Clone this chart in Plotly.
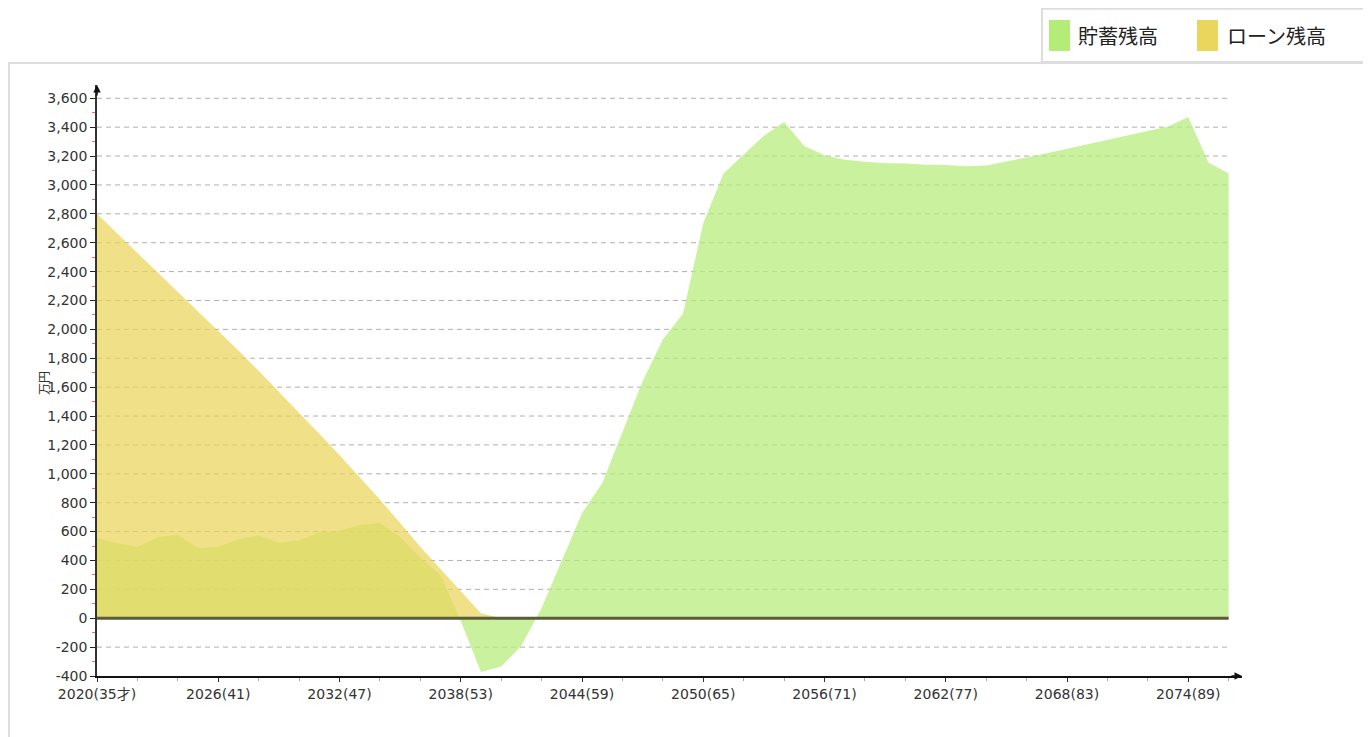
import plotly.graph_objects as go

# 年と年齢
years = list(range(2020, 2077))
tick_years = [2020, 2026, 2032, 2038, 2044, 2050, 2056, 2062, 2068, 2074]
tick_labels = ["2020(35才)", "2026(41)", "2032(47)", "2038(53)", "2044(59)",
               "2050(65)", "2056(71)", "2062(77)", "2068(83)", "2074(89)"]

# 貯蓄残高 (万円)
savings = [555, 520, 495, 560, 580, 485, 495, 545, 575, 522,
           540, 595, 605, 645, 660, 565, 420, 300, -20, -372,
           -335, -190, 70, 400, 727, 935, 1290, 1640, 1930, 2110,
           2735, 3080, 3210, 3340, 3435, 3270, 3205, 3175, 3160, 3150,
           3148, 3140, 3138, 3130, 3135, 3160, 3190, 3220, 3250, 3280,
           3310, 3340, 3370, 3405, 3470, 3155, 3080]

# ローン残高 (万円)
loan = [2800, 2665, 2530, 2395, 2262, 2128, 1993, 1853, 1713, 1570,
        1425, 1278, 1130, 978, 822, 660, 495, 340, 185, 35] + [0] * 37

y_ticks = list(range(-400, 3601, 200))
y_labels = [f"{v:,}" for v in y_ticks]

GREEN = "rgb(180,236,120)"
YELLOW = "rgb(234,214,92)"
FONT = "DejaVu Sans, Noto Sans CJK JP, sans-serif"

fig = go.Figure()
fig.add_trace(go.Scatter(x=years, y=savings, name="貯蓄残高", mode="lines",
                         line=dict(width=0, color=GREEN), fill="tozeroy",
                         fillcolor="rgba(180,236,120,0.72)"))
fig.add_trace(go.Scatter(x=years, y=loan, name="ローン残高", mode="lines",
                         line=dict(width=0, color=YELLOW), fill="tozeroy",
                         fillcolor="rgba(234,214,92,0.72)"))

shapes = []
# 点線のグリッド
for v in y_ticks:
    if v in (-400, 0):
        continue
    shapes.append(dict(type="line", xref="x", yref="y", x0=years[0], x1=years[-1], y0=v, y1=v,
                       line=dict(color="#b0b0b0", width=1, dash="5px,4px"), layer="below"))
# ゼロライン
shapes.append(dict(type="line", xref="x", yref="y", x0=years[0], x1=years[-1], y0=0, y1=0,
                   line=dict(color="#5a5c3a", width=3), layer="above"))
# 外枠と凡例枠
shapes.append(dict(type="rect", xref="paper", yref="paper", x0=-0.0769, x1=1.1074, y0=-0.2, y1=1.0372,
                   line=dict(color="#dddddd", width=2)))
shapes.append(dict(type="rect", xref="paper", yref="paper", x0=0.8253, x1=1.1074, y0=1.0389, y1=1.1290,
                   line=dict(color="#dddddd", width=2), fillcolor="white"))
# 凡例の色見本
shapes.append(dict(type="rect", xref="paper", yref="paper", x0=0.8314, x1=0.8498, y0=1.0575, y1=1.110,
                   line=dict(width=0), fillcolor=GREEN))
shapes.append(dict(type="rect", xref="paper", yref="paper", x0=0.9607, x1=0.9790, y0=1.0575, y1=1.110,
                   line=dict(width=0), fillcolor=YELLOW))

annotations = [
    dict(text="貯蓄残高", xref="paper", yref="paper", x=0.855, y=1.0846, xanchor="left", yanchor="middle",
         showarrow=False, font=dict(family="Noto Sans CJK JP", size=20, color="#222")),
    dict(text="ローン残高", xref="paper", yref="paper", x=0.9852, y=1.0846, xanchor="left", yanchor="middle",
         showarrow=False, font=dict(family="Noto Sans CJK JP", size=20, color="#222")),
    dict(text="万円", xref="paper", yref="paper", x=-0.0454, y=0.4958, textangle=-90,
         xanchor="center", yanchor="middle",
         showarrow=False, font=dict(family=FONT, size=12, color="#333")),
    # 軸の矢印
    dict(text="", xref="x", yref="y", x=2076.66, y=-400, ax=-12, ay=0, axref="pixel", ayref="pixel",
         showarrow=True, arrowhead=2, arrowsize=1, arrowwidth=1.5, arrowcolor="#111"),
    dict(text="", xref="x", yref="y", x=2020, y=3692, ax=0, ay=12, axref="pixel", ayref="pixel",
         showarrow=True, arrowhead=2, arrowsize=1, arrowwidth=1.5, arrowcolor="#111"),
]

# ページ本体の余白 (8px) を差し引いた大きさ
fig.update_layout(
    width=1363, height=729,
    margin=dict(l=89, r=129, t=77, b=61),
    paper_bgcolor="white", plot_bgcolor="white",
    showlegend=False,
    shapes=shapes, annotations=annotations,
    font=dict(family=FONT, size=14, color="#333"),
)
fig.update_xaxes(range=[2020, 2076.66], tickmode="array", tickvals=tick_years, ticktext=tick_labels,
                 showgrid=False, zeroline=False, showline=True, linecolor="#111", linewidth=1.5,
                 ticks="outside", ticklen=4, tickcolor="#333", tickfont=dict(size=14, color="#333"),
                 minor=dict(tickmode="linear", tick0=2020, dtick=2, ticks="outside", ticklen=3,
                            tickcolor="#aaa", showgrid=False))
fig.update_yaxes(range=[-400, 3692], tickmode="array", tickvals=y_ticks, ticktext=y_labels,
                 showgrid=False, zeroline=False, showline=True, linecolor="#333", linewidth=1.5,
                 ticks="outside", ticklen=5, tickcolor="#222", tickfont=dict(size=14, color="#333"),
                 minor=dict(tickmode="linear", tick0=0, dtick=100, ticks="outside", ticklen=3,
                            tickcolor="#ff6666", showgrid=False))

fig.write_html("out.html")
